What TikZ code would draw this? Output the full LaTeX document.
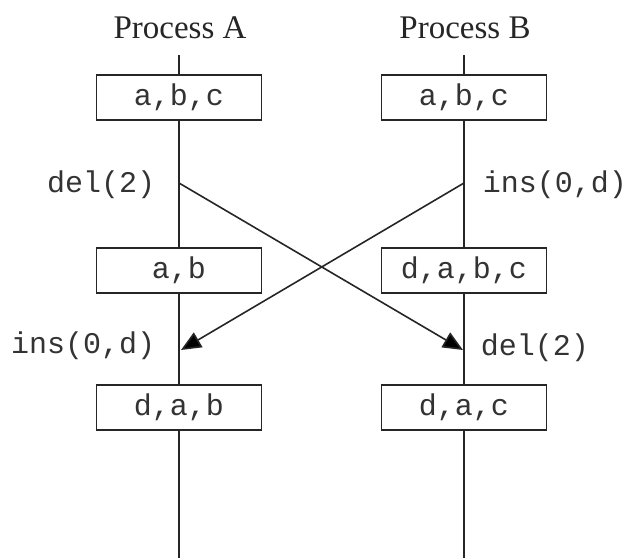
\documentclass[tikz,border=0pt]{standalone}
\usepackage{fontspec}
\setmainfont{Liberation Serif}
\setmonofont{Liberation Mono}
\usetikzlibrary{arrows.meta}
\begin{document}
\begin{tikzpicture}[x=1pt,y=-1pt,
  line width=1.7pt,
  lifeline/.style={draw=black!85, line width=1.7pt},
  title/.style={font=\fontsize{33}{38}\selectfont, text=black!85, inner sep=0pt},
  state/.style={draw=black!85, line width=1.8pt, minimum width=165pt, minimum height=45pt,
    inner sep=0pt, text=black!80, font=\ttfamily\fontsize{30}{36}\selectfont},
  oplabel/.style={font=\ttfamily\fontsize{30}{36}\selectfont, text=black!80, inner sep=2pt},
  msg/.style={draw=black!85, -{Triangle[length=20pt,width=17pt,fill=black]}, line width=1.6pt}
]
\useasboundingbox (0,0) rectangle (637,558);

% process titles
\node[title] (tA) at (180,28) {Process A};
\node[title] (tB) at (465,28) {Process B};

% lifeline end points and event points
\coordinate (topA) at (179,55);
\coordinate (topB) at (464,55);
\coordinate (botA) at (179,558);
\coordinate (botB) at (464,558);
\coordinate (sendA) at (179,183);
\coordinate (sendB) at (464,183);
\coordinate (recvA) at (181,350);
\coordinate (recvB) at (463,350);

% replica states
\node[state] (a1) at (179,97.5) {a,b,c};
\node[state] (a2) at (179,270.5) {a,b};
\node[state] (a3) at (179,407.5) {d,a,b};
\node[state] (b1) at (464,97.5) {a,b,c};
\node[state] (b2) at (464,270.5) {d,a,b,c};
\node[state] (b3) at (464,407.5) {d,a,c};

% lifelines
\draw[lifeline] (topA) -- (a1) -- (a2) -- (a3) -- (botA);
\draw[lifeline] (topB) -- (b1) -- (b2) -- (b3) -- (botB);

% operation labels
\node[oplabel, anchor=east] (opA1) at (158,185) {del(2)};
\node[oplabel, anchor=west] (opB1) at (480,185) {ins(0,d)};
\node[oplabel, anchor=east] (opA2) at (158,346) {ins(0,d)};
\node[oplabel, anchor=west] (opB2) at (478,348) {del(2)};

% propagated operations
\draw[msg] (sendA) -- (recvB);
\draw[msg] (sendB) -- (recvA);
\end{tikzpicture}
\end{document}
